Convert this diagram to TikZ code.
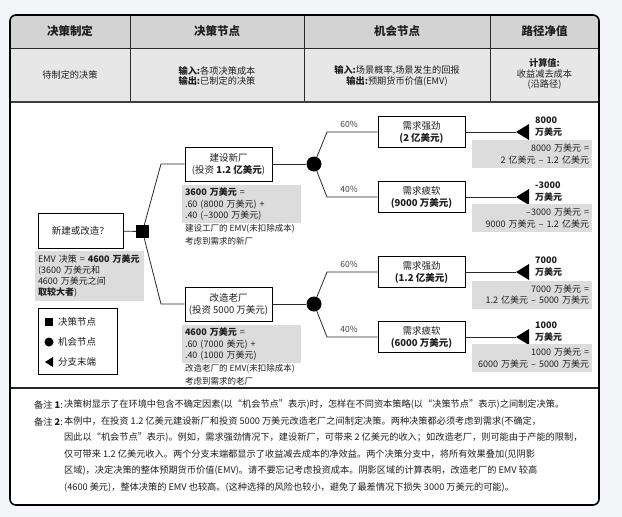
\documentclass[tikz,border=0pt]{standalone}
\usepackage{fontspec}
\setmainfont{Noto Sans CJK SC}
\definecolor{bg}{HTML}{F3F5F8}
\definecolor{hdrfill}{HTML}{D3D3D3}
\definecolor{rowfill}{HTML}{E7E7E7}
\definecolor{shade}{HTML}{DCDCDC}
\definecolor{ink}{HTML}{1E1E1E}
\definecolor{linec}{HTML}{2A2A2A}
\tikzset{
  hdr/.style={font=\fontsize{11.5}{14}\selectfont\bfseries, inner sep=0pt},
  rowtxt/.style={font=\fontsize{9.2}{10.8}\selectfont, align=center, inner sep=0pt},
  tbox/.style={draw=black, line width=0.9pt, fill=white, minimum width=87pt, minimum height=31pt, inner sep=1pt, align=center, font=\fontsize{9.5}{12}\selectfont},
  gbox/.style={fill=shade, inner sep=3pt, font=\fontsize{9}{11.3}\selectfont},
  smalltxt/.style={inner sep=3pt, align=left, font=\fontsize{8.5}{13}\selectfont},
  conn/.style={line width=0.8pt, draw=linec},
  sqnode/.style={fill=black, minimum size=13pt, inner sep=0pt},
  cnode/.style={circle, fill=black, minimum size=15pt, inner sep=0pt},
  prob/.style={font=\fontsize{8.5}{10}\selectfont, text=black!75, inner sep=0pt},
  valtxt/.style={font=\fontsize{9}{12}\selectfont\bfseries, align=left, anchor=west, inner sep=0pt},
  legtxt/.style={font=\fontsize{9.5}{11}\selectfont, anchor=west, inner sep=0pt},
  notetxt/.style={font=\fontsize{9.2}{11}\selectfont, anchor=west, inner sep=0pt},
}
\begin{document}
\begin{tikzpicture}[x=1pt,y=-1pt, color=ink]
\path[use as bounding box, fill=bg] (0,0) rectangle (622,517);
% frame background
\fill[white, rounded corners=6pt] (10,15) rectangle (599,505);
\begin{scope}
  \clip[rounded corners=6pt] (10,15) rectangle (599,505);
  \fill[hdrfill] (10,15) rectangle (599,48);
  \fill[rowfill] (10,48) rectangle (599,102);
\end{scope}
\draw[line width=0.9pt, linec] (10,48) -- (599,48);
\draw[line width=0.9pt, linec] (130,15) -- (130,102);
\draw[line width=0.9pt, linec] (304,15) -- (304,102);
\draw[line width=0.9pt, linec] (490,15) -- (490,102);
\draw[line width=2pt, black!75] (10,102) -- (599,102);
\draw[line width=1.2pt, black!85] (10,388) -- (599,388);
\draw[line width=1.6pt, black, rounded corners=6pt] (10,15) rectangle (599,505);

% header
\node[hdr] (h1) at (70,31.5) {决策制定};
\node[hdr] (h2) at (217,31.5) {决策节点};
\node[hdr] (h3) at (397,31.5) {机会节点};
\node[hdr] (h4) at (544.5,31.5) {路径净值};
\node[rowtxt] (r1) at (70,75) {待制定的决策};
\node[rowtxt, align=left] (r2) at (217,76) {\textbf{输入:}各项决策成本\\\textbf{输出:}已制定的决策};
\node[rowtxt] (r3) at (397,76) {\textbf{输入:}场景概率,场景发生的回报\\\textbf{输出:}预期货币价值(EMV)};
\node[rowtxt] (r4) at (544.5,74) {\textbf{计算值:}\\收益减去成本\\(沿路径)};

% tree nodes
\node[tbox, minimum width=85pt, minimum height=35pt] (q) at (80.5,230.5) {新建或改造？};
\node[sqnode] (dn) at (142.5,231.5) {};
\node[tbox, minimum height=34pt] (b1) at (228.5,164) {建设新厂\\(投资 \textbf{1.2 亿美元})};
\node[tbox, minimum height=34pt] (b2) at (228.5,304) {改造老厂\\(投资 5000 万美元)};
\node[cnode] (c1) at (314,164) {};
\node[cnode] (c2) at (314,304) {};
\node[tbox] (bA) at (421.5,132) {需求强劲\\\textbf{(2 亿美元)}};
\node[tbox] (bB) at (421.5,197) {需求疲软\\\textbf{(9000 万美元)}};
\node[tbox] (bC) at (421.5,272) {需求强劲\\\textbf{(1.2 亿美元)}};
\node[tbox] (bD) at (421.5,337) {需求疲软\\\textbf{(6000 万美元)}};

\coordinate (k1) at (161,164);
\coordinate (k2) at (161,304);
\coordinate (kA) at (327,132);
\coordinate (kB) at (327,197);
\coordinate (kC) at (327,272);
\coordinate (kD) at (327,337);
\coordinate (tA) at (516,132);
\coordinate (tB) at (516,197);
\coordinate (tC) at (516,272);
\coordinate (tD) at (516,337);

\draw[conn] (q) -- (dn);
\draw[conn] (dn) -- (k1) -- (b1.west);
\draw[conn] (dn) -- (k2) -- (b2.west);
\draw[conn] (b1) -- (c1);
\draw[conn] (b2) -- (c2);
\draw[conn] (c1) -- (kA) -- (bA.west);
\draw[conn] (c1) -- (kB) -- (bB.west);
\draw[conn] (c2) -- (kC) -- (bC.west);
\draw[conn] (c2) -- (kD) -- (bD.west);
\draw[conn] (bA) -- (tA);
\draw[conn] (bB) -- (tB);
\draw[conn] (bC) -- (tC);
\draw[conn] (bD) -- (tD);
\foreach \t in {tA,tB,tC,tD} { \fill[black] (\t) -- ++(13,-8) -- ++(0,16) -- cycle; }

\node[prob] (pA) at (349,124) {60\%};
\node[prob] (pB) at (349,189) {40\%};
\node[prob] (pC) at (349,264) {60\%};
\node[prob] (pD) at (349,329) {40\%};

\node[valtxt] (vA) at (535,127) {8000\\万美元};
\node[valtxt] (vB) at (535,192) {-3000\\万美元};
\node[valtxt] (vC) at (535,267) {7000\\万美元};
\node[valtxt] (vD) at (535,332) {1000\\万美元};

\node[gbox, text width=114pt, align=right, minimum height=28pt] (gA) at (532,154) {8000 万美元 =\\2 亿美元 – 1.2 亿美元};
\node[gbox, text width=114pt, align=right, minimum height=28pt] (gB) at (532,218) {–3000 万美元 =\\9000 万美元 – 1.2 亿美元};
\node[gbox, text width=114pt, align=right, minimum height=28pt] (gC) at (532,294.5) {7000 万美元 =\\1.2 亿美元 – 5000 万美元};
\node[gbox, text width=114pt, align=right, minimum height=28pt] (gD) at (532,358) {1000 万美元 =\\6000 万美元 – 5000 万美元};

\node[gbox, text width=113pt, align=left, minimum height=36pt] (g1) at (241.5,204) {\textbf{3600 万美元} =\\.60 (8000 万美元) +\\.40 (–3000 万美元)};
\node[smalltxt, anchor=north west] (n1) at (182,221) {建设工厂的 EMV(未扣除成本)\\考虑到需求的新厂};
\node[gbox, text width=113pt, align=left, minimum height=36pt] (g2) at (241.5,344) {\textbf{4600 万美元} =\\.60 (7000 美元) +\\.40 (1000 万美元)};
\node[smalltxt, anchor=north west] (n2) at (182,361) {改造老厂的 EMV(未扣除成本)\\考虑到需求的老厂};

\node[gbox, text width=103pt, align=left, minimum height=46pt] (emv) at (89.5,276) {EMV 决策 = \textbf{4600 万美元}\\(3600 万美元和\\4600 万美元之间\\\textbf{取较大者})};

% legend
\node[draw=black, line width=0.9pt, fill=white, minimum width=79pt, minimum height=66pt] (leg) at (77.5,341) {};
\node[fill=black, minimum size=8pt, inner sep=0pt] (ls) at (49,322) {};
\node[legtxt] (lt1) at (58,322) {决策节点};
\node[circle, fill=black, minimum size=9pt, inner sep=0pt] (lc) at (49,342) {};
\node[legtxt] (lt2) at (58,342) {机会节点};
\coordinate (lp) at (45,362);
\fill[black] (lp) -- ++(8,-5) -- ++(0,10) -- cycle;
\node[legtxt] (lt3) at (58,362) {分支末端};

% notes
\node[notetxt] (nl1) at (34,405) {备注 \textbf{1}:};
\node[notetxt] (nb1) at (64,405) {决策树显示了在环境中包含不确定因素(以“机会节点”表示)时，怎样在不同资本策略(以“决策节点”表示)之间制定决策。};
\node[notetxt] (nl2) at (34,421.5) {备注 \textbf{2}:};
\node[notetxt] (nb2) at (64,421.5) {本例中，在投资 1.2 亿美元建设新厂和投资 5000 万美元改造老厂之间制定决策。两种决策都必须考虑到需求(不确定，};
\node[notetxt] (nb3) at (64,438) {因此以“机会节点”表示)。例如，需求强劲情况下，建设新厂，可带来 2 亿美元的收入；如改造老厂，则可能由于产能的限制，};
\node[notetxt] (nb4) at (64,454.5) {仅可带来 1.2 亿美元收入。两个分支末端都显示了收益减去成本的净效益。两个决策分支中，将所有效果叠加(见阴影};
\node[notetxt] (nb5) at (64,471) {区域)，决定决策的整体预期货币价值(EMV)。请不要忘记考虑投资成本。阴影区域的计算表明，改造老厂的 EMV 较高};
\node[notetxt] (nb6) at (64,487.5) {(4600 美元)，整体决策的 EMV 也较高。(这种选择的风险也较小，避免了最差情况下损失 3000 万美元的可能)。};
\end{tikzpicture}
\end{document}
